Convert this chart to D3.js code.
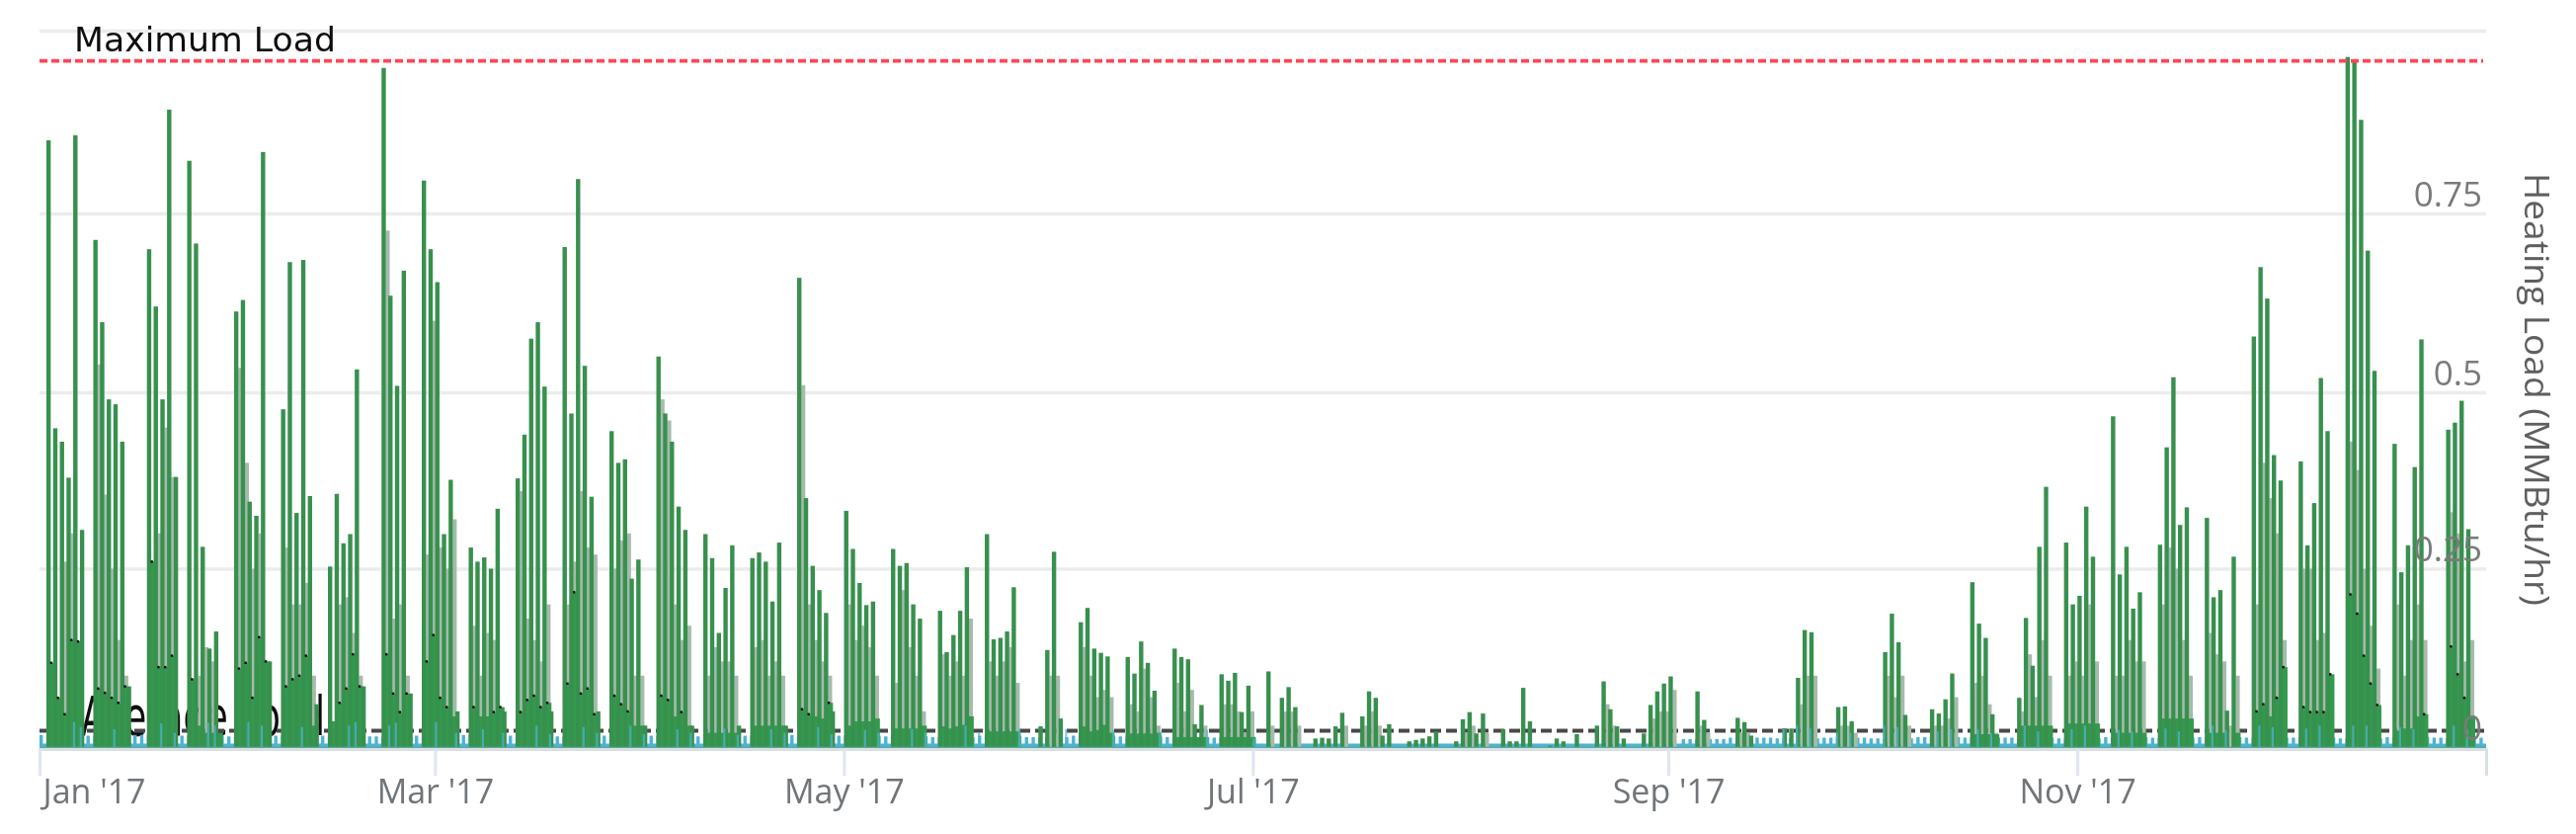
<!DOCTYPE html>
<html><head><meta charset="utf-8">
<script src="https://cdn.jsdelivr.net/npm/d3@7/dist/d3.min.js"></script>
<style>html,body{margin:0;padding:0;background:#fff;overflow:hidden}svg{display:block}</style>
</head><body><svg id="c" width="2608" height="844"></svg>
<script>
// Day of year (0 = 1 Jan 2017), one row per working week
const peakDays = [
1,2,3,4,5,6, 8,9,10,11,12,13, 16,17,18,19,20, 22,23,24,25,26, 29,30,31,32,33,34,
36,37,38,39,40,41, 43,44,45,46,47,48, 51,52,53,54,55, 57,58,59,60,61,62,
64,65,66,67,68,69, 71,72,73,74,75,76, 78,79,80,81,82,83, 85,86,87,88,89,90,
92,93,94,95,96,97, 99,100,101,102,103,104, 106,107,108,109,110,111, 113,114,115,116,117,118,
120,121,122,123,124, 127,128,129,130,131, 134,135,136,137,138, 141,142,143,144,145,
149,150,151,152, 155,156,157,158,159, 162,163,164,165,166, 169,170,171,172,173,
176,177,178,179,180, 183,185,186,187, 190,191,192,193,194, 197,198,199,200,201,
204,205,206,207,208, 211,212,213,214,215, 218,219,220,221,222, 225,226,227,229,
232,233,234,235,236, 239,240,241,242,243, 247,248, 253,254,255, 260,261,262,263,264,
268,269,270, 275,276,277,278, 282,283,284,285, 288,289,290,291, 295,296,297,298,299,
302,303,304,305,306, 309,310,311,312,313, 316,317,318,319,320, 323,324,325,326,327,
330,331,332,333,334, 337,338,339,340,341, 344,345,346,347,348, 351,352,353,354,355,
359,360,361,362];
const peakLoad = [
.85,.449,.43,.379,.857,.305, .713,.598,.49,.483,.43,.085, .70,.62,.49,.892,.38, .822,.708,.281,.138,.162, .613,.629,.345,.325,.834,.12,
.476,.682,.329,.685,.353,.06, .253,.356,.286,.299,.532,.085, .949,.635,.509,.67,.075, .795,.70,.654,.299,.376,.05,
.28,.26,.266,.25,.335,.05, .378,.44,.575,.598,.508,.05, .703,.47,.797,.537,.352,.05, .445,.40,.405,.236,.263,.03,
.55,.47,.43,.338,.305,.03, .299,.265,.16,.223,.283,.03, .265,.273,.26,.204,.287,.03, .66,.35,.254,.22,.188,.05,
.332,.278,.23,.199,.204, .278,.254,.258,.20,.18, .191,.133,.157,.191,.252, .299,.151,.153,.162,.224,
.029,.136,.274,.04, .175,.195,.138,.132,.127, .126,.103,.148,.118,.079, .138,.126,.123,.032,.059,
.102,.093,.104,.049,.086, .106,.069,.084,.056, .012,.013,.012,.029,.048, .043,.078,.069,.016,.032,
.008,.01,.012,.015,.022, .008,.039,.049,.019,.047, .025,.008,.008,.083,.036, .002,.012,.008,.018,
.03,.092,.053,.029,.012, .019,.059,.078,.089,.099, .078,.038, .041,.035,.016, .026,.026,.097,.164,.161,
.056,.057,.036, .133,.187,.147,.045, .053,.047,.067,.103, .231,.173,.153,.046, .069,.181,.114,.281,.366,
.287,.20,.212,.338,.267, .466,.242,.281,.194,.217, .284,.422,.521,.312,.337, .322,.21,.22,.051,.267,
.578,.675,.631,.411,.375, .402,.283,.343,.52,.445, .964,.958,.878,.698,.53, .427,.245,.283,.394,.574,
.447,.457,.488,.306];
const baseLoad = [
.118,.069,.046,.15,.148,0, .082,.076,.069,.062,.085,0, .26,.112,.112,.128,0, .095,.03,.02,.02,.02, .11,.118,.069,.154,.12,.0,
.085,.095,.1,.128,.03,.0, .036,.062,.082,.13,.085,.0, .13,.075,.049,.075,.0, .12,.157,.069,.056,.043,.0,
.056,.043,.043,.049,.056,.0, .049,.066,.072,.056,.062,.0, .089,.217,.075,.082,.046,.0, .072,.06,.05,.03,.03,.0,
.072,.066,.043,.049,.03,.0, .02,.02,.02,.02,.02,.0, .03,.03,.03,.03,.03,.0, .053,.046,.043,.04,.062,.0,
.03,.036,.036,.036,.04, .026,.026,.026,.026,.03, .029,.026,.029,.031,.043, .022,.022,.022,.022,.022,
.0,.0,.0,.0, .029,.022,.024,.031,.02, .019,.019,.019,.019,.02, .014,.014,.014,.014,.014,
.014,.014,.014,.014,.014, 0,0,0,0, 0,0,0,0,0, 0,0,0,0,0,
0,0,0,0,0, 0,0,0,0,0, 0,0,0,0,0, 0,0,0,0,
0,0,0,0,0, 0,0,0,0,0, 0,0, 0,0,0, 0,0,0,0,0,
0,0,0, 0,0,0,0, 0,0,0,0, .018,.018,.018,.018, .03,.03,.03,.03,.03,
.033,.033,.033,.033,.033, .02,.02,.02,.02,.02, .04,.04,.04,.04,.04, .02,.02,.02,.0,.02,
.05,.06,.043,.069,.112, .056,.049,.049,.049,.102, .214,.187,.128,.089,.059, .023,.026,.026,.043,.046,
.141,.102,.069,.043];
const trailLoad = [
0,0,.26,.30,0,0, .539,.355,.25,.15,.1,0, .26,.3,.45,.38,0, 0,.1,.14,.12,0, .534,.40,.25,.3,.1,0,
.28,.2,.2,.23,.1,0, 0,.2,.21,.16,.1,0, .726,.18,.2,.1,0, .27,.6,.28,.25,.32,0,
.17,.1,.16,.15,0,0, .36,.18,.15,.12,.2,0, .2,.26,.36,.28,.27,0, .25,.29,.3,.1,.1,0,
.49,.46,.2,.15,.17,0, .1,.14,.12,.12,.1,0, .14,.15,.1,.12,.1,0, .51,.2,.15,.12,.1,0,
.2,.15,.17,.14,.1, .09,.22,.14,.1,.05, .13,.1,.12,.1,.18, .12,.1,.12,.14,.09,
0,.1,.1,0, .14,.1,.07,.08,.07, .06,.05,.11,.07,.03, .09,.05,.08,0,.03,
.06,.06,.05,.02,.05, .03,.05,.05,.03, 0,0,0,0,.03, .03,.05,.03,0,0,
0,0,0,0,0, 0,.02,.03,0,.02, 0,0,0,0,0, 0,0,0,0,
0,.06,.03,0,0, 0,.04,.05,.05,.08, .03,.02, .02,.02,0, 0,0,.06,.1,.1,
.03,.03,.02, .1,.07,.1,.03, .03,.03,.04,.07, .09,.1,.06,.02, .05,.13,.07,.15,.1,
.1,.12,.1,.2,.12, .1,.1,.15,.12,.12, .2,.28,.25,.15,.1, .16,.13,.12,.03,.1,
.2,.4,.35,.3,.15, .25,.25,.15,.16,.1, .43,.39,.25,.17,.11, .2,.1,.15,.2,.15,
.33,.3,.12,.15];
// Low-level series, one value per calendar week, with its trough level per month
const lowWeekly = [.017,.016,.017,.016,.015,.016,.016,.015,.016,.017,.016,.015,.016,.016,.015,.016,.017,.016,.015,.014,.016,.014,.016,.015,.014,.013,
.005,.005,.005,.005,.005,.005,.005,.005,.005,
.011,.013,.012,.013,.012,.014,.013,.013,.012,.014,.013,.014,.013,.013,.012,.014,.013,.013,.014];
const lowTrough = [.005,.005,.005,.005,.005,.005,.005,.005,.005,.005,.005,.005];
const lowSpikeDays = [5,6,11,18,20,25,26,31,33,39,46,47,52,53,59,62,66,69,74,76,81,83,88,90,95,97,102,104,109,111,116,118,123,125,130,132,138,140,146,153,160,167,174,181,
260,262,264,268,270,275,277,283,285,289,291,296,298,303,305,310,312,317,319,324,326,331,333,338,340,345,347,352,354,360,362];
const lowSpikeLoad = [.035,.028,.025,.033,.02,.034,.03,.035,.03,.028,.03,.035,.03,.034,.035,.02,.025,.02,.03,.018,.028,.02,.03,.018,.025,.02,.026,.017,.025,.02,.028,.018,.024,.02,.025,.02,.03,.02,.025,.025,.024,.022,.024,.012,
.025,.03,.026,.02,.02,.03,.028,.022,.025,.025,.02,.03,.022,.025,.03,.024,.022,.026,.022,.03,.024,.03,.028,.026,.03,.03,.03,.028,.025,.03,.024];
const maximumLoad = 0.9586, averageLoad = 0.023;
const xTicks = ["2017-01-01","2017-03-01","2017-05-01","2017-07-01","2017-09-01","2017-11-01"];
const yGrid = [0,.25,.5,.75,1], yLabels = [0,.25,.5,.75];

const at = d => new Date(Date.UTC(2017,0,1) + d*864e5);
const x = d3.scaleUtc().domain([at(0), at(365)]).range([40,2517]);
const y = d3.scaleLinear().domain(yGrid).range([756,575.5,397,216,31]);
const svg = d3.select("#c");
const defs = svg.append("defs");
defs.append("filter").attr("id","soft").attr("filterUnits","userSpaceOnUse")
  .attr("x",0).attr("y",0).attr("width",2608).attr("height",844)
  .append("feGaussianBlur").attr("stdDeviation",0.6);
const g = svg.append("g").attr("filter","url(#soft)");

// grid
const gridAxis = g.append("g").attr("transform","translate(2517,0)")
  .call(d3.axisLeft(y).tickValues(yGrid.slice(1)).tickSize(2477).tickFormat(""));
gridAxis.select(".domain").remove();
gridAxis.selectAll("line").attr("stroke","#ececec").attr("stroke-width",3.4);

// Average Load label sits behind the columns
g.append("text").attr("x",82).attr("y",744).attr("font-family","DejaVu Sans").attr("font-size",56)
  .attr("textLength",247).attr("lengthAdjust","spacingAndGlyphs").attr("fill","#111").text("Average Load");
g.append("line").attr("x1",40).attr("x2",2517).attr("y1",y(averageLoad)).attr("y2",y(averageLoad))
  .attr("stroke","#4a4a4a").attr("stroke-width",4).attr("stroke-dasharray","11 5");

// low-level stepped area
const lowPts = [];
for (let d=0; d<365; d++) {
  const m = at(d).getUTCMonth();
  lowPts.push([d, lowWeekly[Math.min(Math.floor(d/7), lowWeekly.length-1)]]);
  lowPts.push([d+.5, lowTrough[m]]);
}
lowPts.push([365, lowTrough[11]]);
g.append("path").datum(lowPts).attr("fill","#4db3d4")
  .attr("d", d3.area().curve(d3.curveStepAfter).x(p=>x(at(p[0]))).y0(y(0)).y1(p=>y(p[1])));

const idx = d3.range(peakDays.length);
const bar = (sel,val,off,w,color) => sel.selectAll(null).data(idx.filter(i=>val[i]>0)).join("rect")
  .attr("x",i=>x(at(peakDays[i]+off))-w/2).attr("width",w)
  .attr("y",i=>y(val[i])).attr("height",i=>y(0)-y(val[i])).attr("fill",color);

bar(g.append("g"), trailLoad, .95, 4, "#a6bbaa");
// base columns span a full day
g.append("g").selectAll(null).data(idx.filter(i=>baseLoad[i]>0)).join("rect")
  .attr("x",i=>x(at(peakDays[i]+.3))).attr("width",i=>x(at(peakDays[i]+1.3))-x(at(peakDays[i]+.3))+.5)
  .attr("y",i=>y(baseLoad[i])).attr("height",i=>y(0)-y(baseLoad[i])).attr("fill","#339a4e");
bar(g.append("g"), peakLoad, .35, 4.4, "#38904f");

// marker tips
g.append("g").selectAll(null).data(idx.filter(i=>baseLoad[i]>.045)).join("rect")
  .attr("x",i=>x(at(peakDays[i]+.75))-1.2).attr("width",2.4).attr("height",2.4)
  .attr("y",i=>y(baseLoad[i])-1.2).attr("fill","#111");

// low-level spikes over the columns
g.append("g").selectAll(null).data(lowSpikeDays).join("rect")
  .attr("x",(d)=>x(at(d))).attr("width",2.2)
  .attr("y",(d,i)=>y(lowSpikeLoad[i])).attr("height",(d,i)=>y(0)-y(lowSpikeLoad[i]))
  .attr("fill","#4fb6d6").attr("opacity",.7);

// baseline of the series
g.append("line").attr("x1",40).attr("x2",2517).attr("y1",y(0)+.5).attr("y2",y(0)+.5)
  .attr("stroke","#5aa89c").attr("stroke-width",1.5);

// maximum line + label
g.append("line").attr("x1",40).attr("x2",2514).attr("y1",y(maximumLoad)).attr("y2",y(maximumLoad))
  .attr("stroke","#ff4455").attr("stroke-width",3.6).attr("stroke-dasharray","8 4");
g.append("text").attr("x",75).attr("y",52).attr("font-family","DejaVu Sans").attr("font-size",34.5)
  .attr("textLength",265).attr("lengthAdjust","spacingAndGlyphs").attr("fill","#111").text("Maximum Load");

// x axis
const xAxis = g.append("g").attr("transform","translate(0,758)")
  .call(d3.axisBottom(x).tickValues(xTicks.map(s=>new Date(s+"T00:00:00Z"))).tickSize(27).tickFormat(d3.utcFormat("%b '%y")));
xAxis.select(".domain").attr("stroke","#d9e0e4").attr("stroke-width",3);
xAxis.selectAll("line").attr("stroke","#dfe5f1").attr("stroke-width",3);
xAxis.selectAll("text").attr("y",55).attr("dy",0).attr("fill","#6f7479")
  .attr("font-family","Open Sans").attr("font-size",34);
xAxis.selectAll("text").filter((d,i)=>i===0).attr("text-anchor","start").attr("x",3);

// y labels
const yAxis = g.append("g").attr("transform","translate(2513,0)")
  .call(d3.axisLeft(y).tickValues(yLabels).tickSize(0).tickFormat(d3.format("~g")));
yAxis.select(".domain").remove();
yAxis.selectAll("text").attr("x",0).attr("dy",-8).attr("fill","#7a7a7a")
  .attr("font-family","Open Sans").attr("font-size",35);

g.append("text").attr("transform","translate(2556,394) rotate(90)").attr("text-anchor","middle")
  .attr("font-family","Open Sans").attr("font-size",34).attr("fill","#5f5f5f")
  .attr("textLength",438).attr("lengthAdjust","spacingAndGlyphs").text("Heating Load (MMBtu/hr)");
</script></body></html>
